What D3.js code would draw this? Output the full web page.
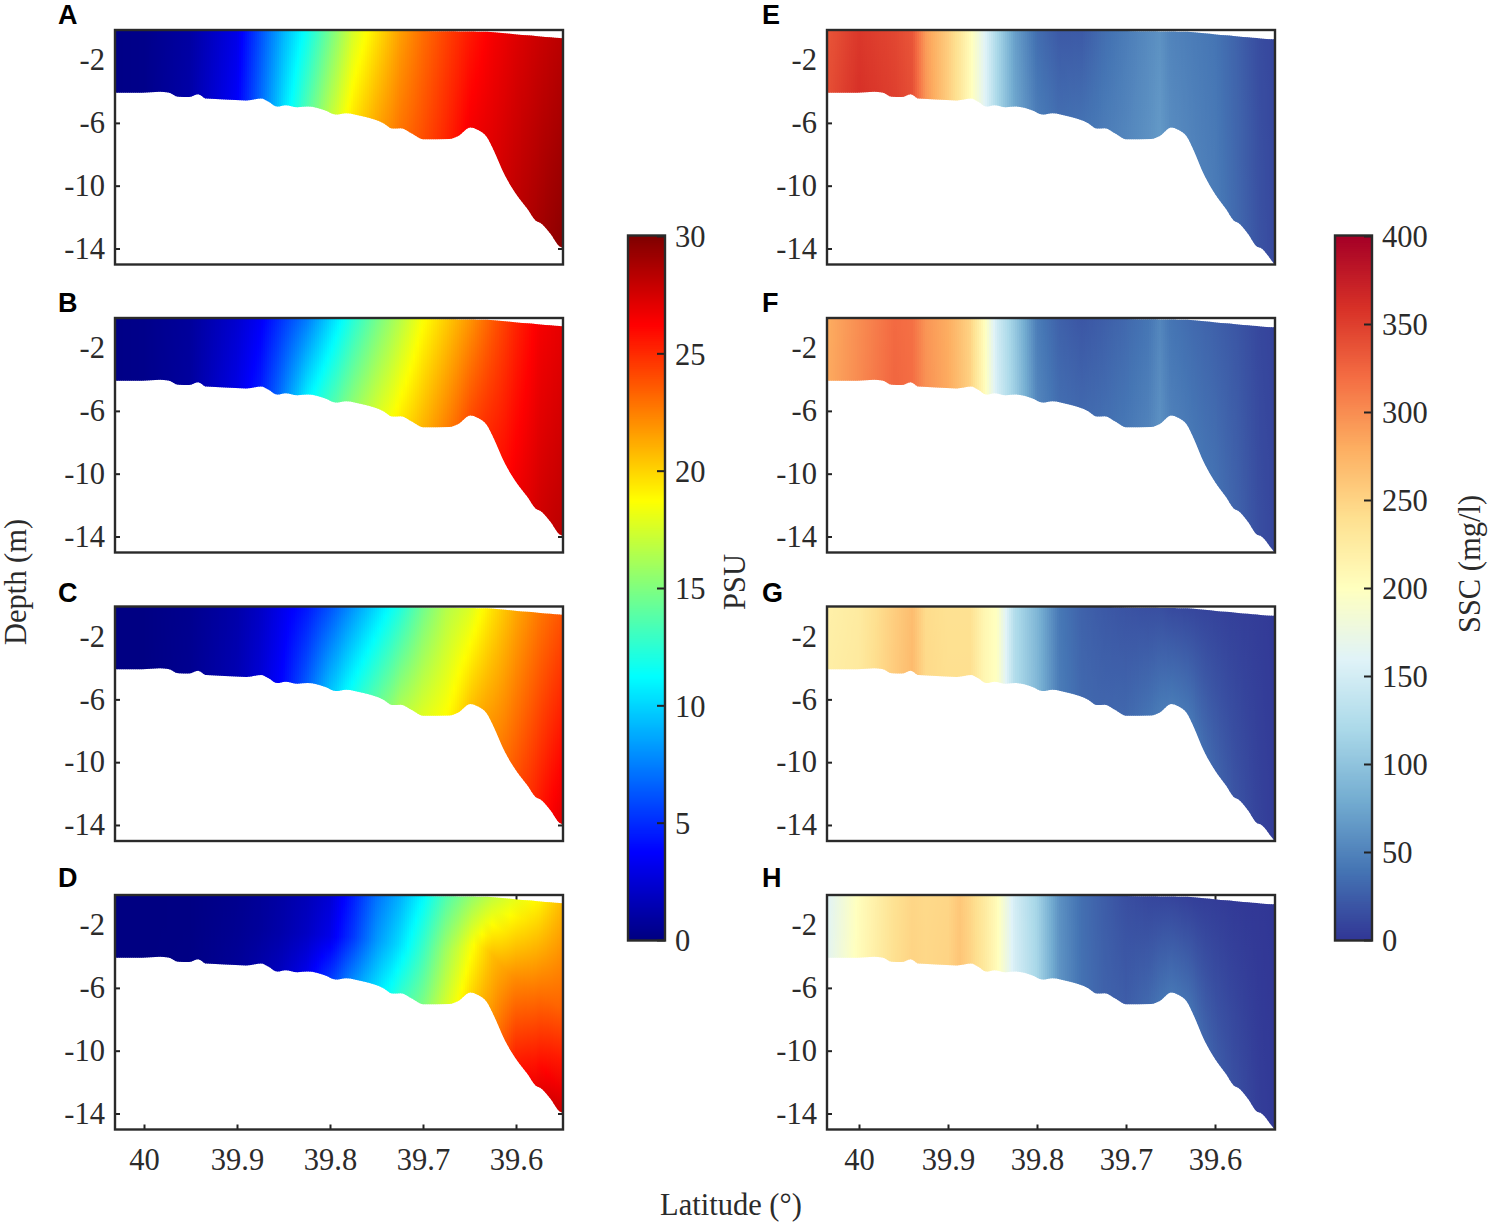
<!DOCTYPE html>
<html lang="en">
<head>
    <meta charset="UTF-8">
    <title>Salinity and SSC sections</title>
    <script src="https://d3js.org/d3.v7.min.js"></script>
    <style>
        body { margin: 0; background: #fff; }
        svg { display: block; }
        text { font-family: "Liberation Serif", serif; font-size: 30.5px; fill: #2b2b2b; }
        .letter { font-family: "Liberation Sans", sans-serif; font-size: 27px; font-weight: bold; fill: #000; }
        .axis text { font-size: 30.5px; }
        .axis path { display: none; }
        .axis line { stroke: #222; stroke-width: 2px; }
        .frame { fill: none; stroke: #2a2a2a; stroke-width: 2.4px; }
    </style>
</head>
<body>
<svg id="chart" width="1489" height="1222"></svg>
<script>
    // bed and water surface along the section
    const bedLat = [40.036, 40.002, 39.983, 39.974, 39.963, 39.952, 39.942, 39.933, 39.913, 39.89, 39.874, 39.866, 39.857, 39.848, 39.835, 39.824, 39.805, 39.794, 39.783, 39.764, 39.742, 39.733, 39.724, 39.712, 39.7, 39.672, 39.662, 39.649, 39.642, 39.631, 39.624, 39.612, 39.599, 39.588, 39.579, 39.574, 39.563, 39.553, 39.549, 39.533];
    const bedDepth = [-4.08, -4.08, -4.02, -4.06, -4.34, -4.36, -4.17, -4.45, -4.51, -4.57, -4.45, -4.66, -4.96, -4.87, -5.0, -4.96, -5.21, -5.47, -5.38, -5.6, -6.04, -6.36, -6.34, -6.68, -7.04, -7.02, -6.83, -6.3, -6.42, -6.93, -7.74, -9.34, -10.61, -11.46, -12.21, -12.36, -13.06, -13.87, -13.95, -15.02];
    const surfaceLat = [40.036, 39.75, 39.631, 39.549, 39.533];
    const surfaceDepth = [-0.05, -0.1, -0.2, -0.62, -0.68];

    // salinity read at the surface, mid depth and the bed
    const psuLat = [40.03, 40.0, 39.95, 39.9, 39.875, 39.85, 39.825, 39.8, 39.775, 39.75, 39.725, 39.7, 39.675, 39.65, 39.625, 39.6, 39.575, 39.55, 39.533];
    const psuTopA = [0.2, 0.3, 1.0, 3.0, 6.0, 9.0, 11.5, 14.5, 17.5, 19.5, 21.5, 23.0, 24.3, 25.5, 26.5, 27.2, 27.8, 28.3, 28.6];
    const psuBedA = [0.2, 0.3, 1.2, 3.6, 6.8, 10.3, 13.6, 16.8, 19.5, 21.3, 22.8, 24.0, 25.2, 26.5, 27.2, 28.1, 28.9, 29.7, 30.0];
    const psuTopB = [0.2, 0.3, 0.8, 2.3, 3.4, 5.3, 7.2, 9.8, 12.3, 14.5, 16.5, 18.6, 20.2, 21.8, 23.6, 25.2, 26.5, 27.0, 27.2];
    const psuBedB = [0.2, 0.3, 0.9, 3.0, 4.5, 7.5, 10.8, 13.3, 15.5, 17.5, 19.3, 21.0, 22.5, 24.0, 25.3, 26.6, 27.6, 28.3, 28.6];
    const psuTopC = [0.1, 0.1, 0.4, 1.2, 2.0, 3.2, 4.3, 6.0, 8.0, 10.0, 12.0, 14.5, 16.5, 17.6, 19.6, 21.3, 22.7, 23.8, 24.0];
    const psuBedC = [0.1, 0.1, 0.5, 1.5, 2.5, 4.0, 6.5, 9.5, 11.8, 14.0, 16.3, 17.9, 18.8, 20.5, 22.0, 23.8, 25.5, 27.2, 27.6];
    const psuTopD = [0.05, 0.05, 0.1, 0.4, 0.7, 1.1, 1.6, 2.4, 4.5, 7.0, 8.8, 11.0, 13.5, 15.3, 16.8, 18.0, 19.0, 20.8, 21.0];
    const psuMidD = [0.05, 0.05, 0.1, 0.5, 0.8, 1.3, 2.0, 3.1, 5.4, 8.2, 10.3, 13.0, 16.0, 18.3, 20.7, 22.2, 23.0, 23.4, 23.6];
    const psuBedD = [0.05, 0.05, 0.15, 0.7, 1.2, 2.0, 3.2, 5.5, 8.0, 10.3, 12.7, 15.0, 17.6, 19.8, 22.0, 25.5, 27.0, 28.0, 28.3];

    // suspended sediment read at the surface and the bed
    const sscLat = [40.036, 40.0, 39.96, 39.94, 39.925, 39.9, 39.887, 39.875, 39.86, 39.845, 39.825, 39.8, 39.775, 39.75, 39.725, 39.7, 39.675, 39.662, 39.65, 39.625, 39.6, 39.575, 39.55, 39.533];
    const sscTopE = [335, 355, 345, 335, 290, 255, 232, 205, 165, 120, 70, 35, 22, 22, 35, 45, 55, 60, 50, 45, 40, 28, 14, 10];
    const sscBedE = [340, 360, 350, 340, 295, 255, 232, 205, 165, 120, 75, 45, 35, 38, 45, 52, 60, 66, 56, 50, 45, 32, 18, 12];
    const sscTopF = [280, 300, 322, 318, 295, 280, 265, 250, 205, 148, 105, 45, 27, 20, 25, 32, 40, 52, 40, 33, 27, 20, 11, 8];
    const sscBedF = [282, 302, 325, 320, 298, 282, 267, 252, 208, 152, 110, 52, 35, 32, 36, 42, 50, 60, 48, 42, 38, 28, 15, 10];
    const sscTopG = [218, 226, 255, 268, 243, 238, 238, 238, 212, 198, 125, 88, 42, 28, 22, 18, 15, 15, 12, 10, 8, 6, 4, 2];
    const sscBedG = [222, 228, 257, 270, 245, 240, 240, 240, 212, 198, 125, 90, 45, 32, 30, 32, 40, 45, 45, 42, 30, 18, 8, 4];
    const sscTopH = [160, 203, 238, 248, 245, 248, 260, 248, 228, 205, 150, 115, 60, 36, 25, 15, 10, 9, 8, 5, 4, 2, 1, 0];
    const sscBedH = [165, 205, 240, 250, 247, 250, 262, 250, 230, 205, 152, 118, 62, 38, 28, 25, 33, 40, 42, 38, 25, 15, 5, 2];

    // tick labels
    const depthTicks = [-2, -6, -10, -14];
    const latTicks = [40, 39.9, 39.8, 39.7, 39.6];
    const psuTicks = [0, 5, 10, 15, 20, 25, 30];
    const sscTicks = [0, 50, 100, 150, 200, 250, 300, 350, 400];

    // colour maps
    const jetValues = [0, 3.75, 11.25, 18.75, 26.25, 30];
    const jetColors = ["#000080", "#0000ff", "#00ffff", "#ffff00", "#ff0000", "#800000"];
    const rdYlBuValues = [0, 40, 80, 120, 160, 200, 240, 280, 320, 360, 400];
    const rdYlBuColors = ["#313695", "#4575b4", "#74add1", "#abd9e9", "#e0f3f8", "#ffffbf", "#fee090", "#fdae61", "#f46d43", "#d73027", "#a50026"];

    const psuColor = d3.scaleLinear().domain(jetValues).range(jetColors).clamp(true);
    const sscColor = d3.scaleLinear().domain(rdYlBuValues).range(rdYlBuColors).clamp(true);

    const panelTops = [30, 318, 606.5, 895];
    const panelHeight = 234.5;

    const leftPanels = [
        { letter: "A", levels: [[0, psuTopA], [1, psuBedA]] },
        { letter: "B", levels: [[0, psuTopB], [1, psuBedB]] },
        { letter: "C", levels: [[0, psuTopC], [1, psuBedC]] },
        { letter: "D", levels: [[0, psuTopD], [0.5, psuMidD], [1, psuBedD]] }
    ];
    const rightPanels = [
        { letter: "E", levels: [[0, sscTopE], [1, sscBedE]] },
        { letter: "F", levels: [[0, sscTopF], [1, sscBedF]] },
        { letter: "G", levels: [[0, sscTopG], [1, sscBedG]] },
        { letter: "H", levels: [[0, sscTopH], [1, sscBedH]] }
    ];

    const letterY = [24, 312, 602, 887];

    const svg = d3.select("#chart");
    const defs = svg.append("defs");

    const bedAt = d3.scaleLinear().domain(bedLat).range(bedDepth);
    const surfaceAt = d3.scaleLinear().domain(surfaceLat).range(surfaceDepth);

    // one section panel: vertical gradient columns clipped to the water body
    function drawPanel(panel, row, id, opts) {
        const top = panelTops[row];
        const x = d3.scaleLinear().domain(opts.latDomain).range(opts.xRange);
        const y = d3.scaleLinear().domain([-0.085, -15.02]).range([top, top + panelHeight]);
        const g = svg.append("g");

        // ticks sit under the field, so it hides them where they overlap
        g.append("g").attr("class", "axis").attr("transform", `translate(${opts.xRange[0]},0)`)
            .call(d3.axisLeft(y).tickValues(depthTicks).tickSize(-5).tickPadding(10).tickFormat(d => String(d)));
        g.append("g").attr("class", "axis").attr("transform", `translate(${opts.xRange[1]},0)`)
            .call(d3.axisRight(y).tickValues(depthTicks).tickSize(-5).tickFormat(""));
        if (row === 3) {
            g.append("g").attr("class", "axis").attr("transform", `translate(0,${top + panelHeight})`)
                .call(d3.axisBottom(x).tickValues(latTicks).tickSize(-5).tickPadding(19).tickFormat(d => String(d)));
            g.append("g").attr("class", "axis").attr("transform", `translate(0,${top})`)
                .call(d3.axisTop(x).tickValues(latTicks).tickSize(-5).tickFormat(""));
        }

        const clipId = `clip-${id}`;
        const water = d3.area()
            .x(d => x(d))
            .y0(d => y(surfaceAt(d)))
            .y1(d => y(bedAt(d)))
            .curve(d3.curveMonotoneX);
        const clipLats = bedLat.filter(d => d > opts.latDomain[1]).concat([opts.latDomain[1]]);
        clipLats[0] = opts.latDomain[0];
        defs.append("clipPath").attr("id", clipId).append("path").attr("d", water(clipLats));

        const field = g.append("g").attr("clip-path", `url(#${clipId})`);
        const sections = panel.levels.map(l => ({
            sigma: l[0],
            at: d3.scaleLinear().domain(opts.stations).range(l[1])
        }));
        const sigmaAt = d3.scaleLinear().domain(sections.map(s => s.sigma)).range(d3.range(sections.length));
        const sigmaStops = d3.range(0, 1.001, 0.125);

        d3.range(opts.xRange[0], opts.xRange[1], 2).forEach((px, i) => {
            const lat = x.invert(px + 1);
            const gradId = `grad-${id}-${i}`;
            const grad = defs.append("linearGradient").attr("id", gradId)
                .attr("x1", 0).attr("y1", 0).attr("x2", 0).attr("y2", 1);
            sigmaStops.forEach(s => {
                const pos = sigmaAt(s);
                const lo = Math.min(Math.floor(pos), sections.length - 2);
                const v = d3.interpolateNumber(sections[lo].at(lat), sections[lo + 1].at(lat))(pos - lo);
                grad.append("stop").attr("offset", s).attr("stop-color", opts.color(v));
            });
            const yTop = y(surfaceAt(lat));
            field.append("rect")
                .attr("x", px)
                .attr("width", 2.6)
                .attr("y", yTop - 3)
                .attr("height", y(bedAt(lat)) - yTop + 6)
                .attr("fill", `url(#${gradId})`);
        });

        g.append("rect").attr("class", "frame")
            .attr("x", opts.xRange[0]).attr("y", top)
            .attr("width", opts.xRange[1] - opts.xRange[0]).attr("height", panelHeight);

        svg.append("text").attr("class", "letter")
            .attr("x", opts.letterX).attr("y", letterY[row]).text(panel.letter);
    }

    function drawColorbar(color, domainMax, ticks, x0, x1) {
        const y = d3.scaleLinear().domain([0, domainMax]).range([940, 236]);
        const g = svg.append("g");
        const step = domainMax / 352;
        g.selectAll("rect").data(d3.range(0, domainMax, step)).enter().append("rect")
            .attr("x", x0)
            .attr("width", x1 - x0)
            .attr("y", d => y(d + step))
            .attr("height", y(0) - y(step) + 0.6)
            .attr("fill", d => color(d + step / 2));
        const axis = g.append("g").attr("class", "axis").attr("transform", `translate(${x1},0)`)
            .call(d3.axisRight(y).tickValues(ticks).tickSize(-8).tickPadding(10).tickFormat(d => String(d)));
        axis.selectAll("text").attr("y", 1);
        g.append("rect").attr("class", "frame")
            .attr("x", x0).attr("y", 235.5).attr("width", x1 - x0).attr("height", 705);
    }

    leftPanels.forEach((p, i) => drawPanel(p, i, `l${i}`, {
        latDomain: [40 + 29 / 930, 40 - 419 / 930],
        xRange: [115, 563],
        stations: psuLat,
        color: psuColor,
        letterX: 58
    }));
    rightPanels.forEach((p, i) => drawPanel(p, i, `r${i}`, {
        latDomain: [40 + 32 / 890, 40 - 416 / 890],
        xRange: [827, 1275],
        stations: sscLat,
        color: sscColor,
        letterX: 762
    }));

    drawColorbar(psuColor, 30, psuTicks, 628, 665);
    drawColorbar(sscColor, 400, sscTicks, 1335, 1372);

    // axis titles
    svg.append("text").attr("transform", "translate(26,582) rotate(-90)").attr("text-anchor", "middle").text("Depth (m)");
    svg.append("text").attr("x", 731).attr("y", 1215).attr("text-anchor", "middle").text("Latitude (°)");
    svg.append("text").attr("transform", "translate(745,582) rotate(-90)").attr("text-anchor", "middle").text("PSU");
    svg.append("text").attr("transform", "translate(1480,564) rotate(-90)").attr("text-anchor", "middle").text("SSC (mg/l)");
</script>
</body>
</html>
